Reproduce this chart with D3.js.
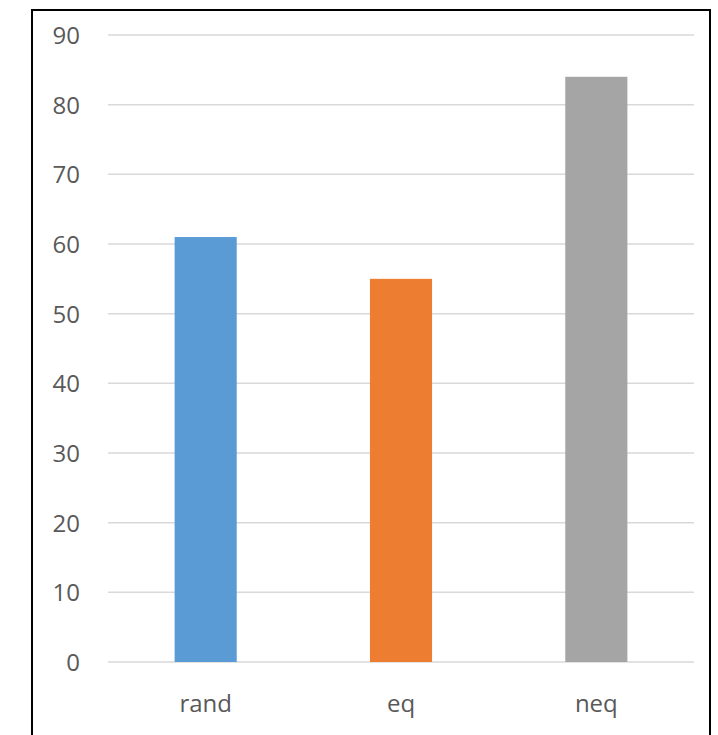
<!DOCTYPE html>
<html>
<head>
<meta charset="utf-8">
<script src="https://cdn.jsdelivr.net/npm/d3@7"></script>
<style>
  html, body { margin: 0; padding: 0; background: #fff; }
  svg { display: block; }
</style>
</head>
<body>
<svg id="chart" width="718" height="735"></svg>
<script>
// Category labels, values and axis ticks
const categories = ["rand", "eq", "neq"];
const values = [61, 55, 84];
const barColors = ["#5b9bd5", "#ed7d31", "#a5a5a5"];
const yTicks = [0, 10, 20, 30, 40, 50, 60, 70, 80, 90];

const svg = d3.select("#chart");
const W = 718, H = 735;
const fontFamily = "'Open Sans', 'Noto Sans', sans-serif";

// Frame around the chart area
svg.append("rect")
  .attr("x", 32).attr("y", 10)
  .attr("width", 678).attr("height", H)
  .attr("fill", "#fff")
  .attr("stroke", "#000")
  .attr("stroke-width", 2);

const plot = { left: 108, right: 694, top: 35, bottom: 662 };

const y = d3.scaleLinear()
  .domain([0, 90])
  .range([plot.bottom, plot.top]);

const x = d3.scaleBand()
  .domain(categories)
  .range([plot.left, plot.right])
  .paddingInner(0.682)
  .paddingOuter(0.341);

// Horizontal gridlines
svg.append("g")
  .selectAll("line")
  .data(yTicks)
  .join("line")
  .attr("x1", plot.left).attr("x2", plot.right)
  .attr("y1", d => y(d)).attr("y2", d => y(d))
  .attr("stroke", "#d9d9d9")
  .attr("stroke-width", 1.5);

// Y axis tick labels
const yAxis = d3.axisLeft(y).tickValues(yTicks).tickSize(0).tickPadding(0);
const gy = svg.append("g")
  .attr("transform", `translate(80,0)`)
  .call(yAxis);
gy.select(".domain").remove();
gy.selectAll("text")
  .attr("fill", "#595959")
  .attr("font-family", fontFamily)
  .attr("font-size", 24)
  .attr("dy", "0.35em");

// Bars
svg.append("g")
  .selectAll("rect")
  .data(categories)
  .join("rect")
  .attr("x", d => x(d))
  .attr("width", x.bandwidth())
  .attr("y", (d, i) => y(values[i]))
  .attr("height", (d, i) => y(0) - y(values[i]))
  .attr("fill", (d, i) => barColors[i]);

// X axis category labels
const xAxis = d3.axisBottom(x).tickSize(0).tickPadding(0);
const gx = svg.append("g")
  .attr("transform", `translate(0,${plot.bottom})`)
  .call(xAxis);
gx.select(".domain").remove();
gx.selectAll("text")
  .attr("fill", "#595959")
  .attr("font-family", fontFamily)
  .attr("font-size", 24)
  .attr("dy", "0")
  .attr("y", 50);
</script>
</body>
</html>
